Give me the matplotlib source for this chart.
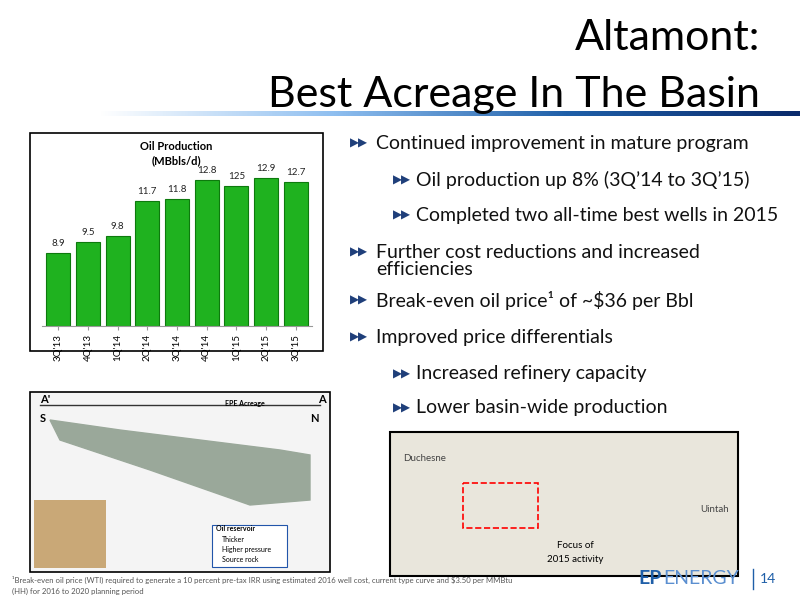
import matplotlib
matplotlib.use("Agg")
import matplotlib.pyplot as plt
import numpy as np
from matplotlib.patches import Rectangle
from matplotlib.colors import LinearSegmentedColormap

plt.rcParams['font.family'] = ['Lato', 'DejaVu Sans']

quarters = ["3Q'13", "4Q'13", "1Q'14", "2Q'14", "3Q'14", "4Q'14", "1Q'15", "2Q'15", "3Q'15"]
production = [8.9, 9.5, 9.8, 11.7, 11.8, 12.8, 12.5, 12.9, 12.7]
value_labels = ["8.9", "9.5", "9.8", "11.7", "11.8", "12.8", "125", "12.9", "12.7"]

bullets = [
    (0, "Continued improvement in mature program"),
    (1, "Oil production up 8% (3Q\u201914 to 3Q\u201915)"),
    (1, "Completed two all-time best wells in 2015"),
    (0, "Further cost reductions and increased\nefficiencies"),
    (0, "Break-even oil price\u00b9 of ~$36 per Bbl"),
    (0, "Improved price differentials"),
    (1, "Increased refinery capacity"),
    (1, "Lower basin-wide production"),
]
bullet_y = [143, 180, 215, 261, 300, 337, 374, 408]

W, H = 800, 600
fig = plt.figure(figsize=(8, 6), dpi=100)
bg = fig.add_axes([0, 0, 1, 1])

# title
bg.text(760, 38, "Altamont:", ha='right', va='center', fontsize=31, color='black')
bg.text(760, 95, "Best Acreage In The Basin", ha='right', va='center', fontsize=31, color='black')
grad = np.linspace(0, 1, 256)[None, :]
cm = LinearSegmentedColormap.from_list('g', ['#ffffff', '#8fbff0', '#1f5fa8', '#0a2a6b'])
bg.imshow(grad, extent=[100, 800, 116, 111], aspect='auto', cmap=cm, zorder=1)
bg.set_xlim(0, W); bg.set_ylim(H, 0); bg.axis('off')

# bullets
for (lvl, txt), y in zip(bullets, bullet_y):
    ax_x = 350 if lvl == 0 else 393
    tx_x = 376 if lvl == 0 else 416
    yy = y if '\n' not in txt else y - 9
    bg.text(ax_x, yy, "\u25B6\u25B6", fontsize=8.5, color='#1f3f7a', va='center', ha='left',
            family=['DejaVu Sans'])
    bg.text(tx_x, y, txt, fontsize=14, color='#111111', va='center', ha='left', linespacing=0.95)

# chart frame
bg.add_patch(Rectangle((30, 133), 293, 218, fill=False, lw=1.2, ec='black'))
bg.text(176, 146, "Oil Production", ha='center', va='center', fontsize=8, fontweight='bold')
bg.text(176, 161, "(MBbls/d)", ha='center', va='center', fontsize=8, fontweight='bold')

ax = fig.add_axes([42 / W, 1 - 326 / H, 270 / W, (326 - 150) / H])
x = np.arange(len(quarters))
ax.bar(x, [p - 5 for p in production], bottom=5, width=0.8, color='#1fb21f', edgecolor='#0d7a0d', lw=0.8)
for xi, p, lab in zip(x, production, value_labels):
    ax.text(xi, p + 0.25, lab, ha='center', va='bottom', fontsize=7, color='#222222')
ax.set_ylim(5, 14.4)
ax.set_xlim(-0.55, len(quarters) - 0.45)
ax.set_xticks(x)
ax.set_xticklabels(quarters, rotation=90, fontsize=7)
ax.set_yticks([])
for s in ['top', 'right', 'left']:
    ax.spines[s].set_visible(False)
ax.spines['bottom'].set_color('#999999')
ax.tick_params(axis='x', length=3, color='#999999', pad=3)
ax.patch.set_alpha(0)

# cross-section placeholder
bg.add_patch(Rectangle((30, 392), 300, 180, fc='#f4f4f4', ec='black', lw=1.2))
bg.add_patch(Rectangle((34, 500), 72, 68, fc='#c9a877', ec='none'))
bg.fill([50, 120, 200, 280, 310, 310, 250, 150, 60], [420, 430, 440, 450, 455, 500, 505, 470, 440],
        color='#9aa89a', zorder=2)
bg.plot([40, 320], [405, 405], color='#333333', lw=1)
bg.text(40, 405, "A'", fontsize=8, fontweight='bold', va='bottom')
bg.text(318, 405, "A", fontsize=8, fontweight='bold', va='bottom')
bg.text(40, 422, "S", fontsize=8, fontweight='bold')
bg.text(310, 422, "N", fontsize=8, fontweight='bold')
bg.text(245, 407, "EPE Acreage", fontsize=5, fontweight='bold', ha='center', va='bottom')
bg.add_patch(Rectangle((212, 525), 75, 42, fc='white', ec='#2255aa', lw=0.8, zorder=3))
bg.text(216, 531, "Oil reservoir", fontsize=5, fontweight='bold', zorder=4)
bg.text(222, 542, "Thicker", fontsize=5, zorder=4)
bg.text(222, 552, "Higher pressure", fontsize=5, zorder=4)
bg.text(222, 562, "Source rock", fontsize=5, zorder=4)

# map placeholder
bg.add_patch(Rectangle((390, 432), 348, 144, fc='#e9e6dc', ec='black', lw=1.5))
bg.add_patch(Rectangle((463, 483), 75, 45, fill=False, ec='red', ls='--', lw=1.2, zorder=3))
bg.text(403, 461, "Duchesne", fontsize=7, color='#444444')
bg.text(700, 512, "Uintah", fontsize=7, color='#444444')
bg.text(575, 548, "Focus of", fontsize=7, ha='center', zorder=4)
bg.text(575, 562, "2015 activity", fontsize=7, ha='center', zorder=4)

# footer
bg.text(12, 576, "\u00b9Break-even oil price (WTI) required to generate a 10 percent pre-tax IRR using estimated 2016 well cost, current type curve and $3.50 per MMBtu\n(HH) for 2016 to 2020 planning period",
        fontsize=5.6, color='#555555', va='top', linespacing=1.6)
bg.text(638, 579, "EP", fontsize=14, fontweight='bold', color='#1f5fa8', va='center')
bg.text(663, 579, "ENERGY", fontsize=14, color='#5b8fd0', va='center')
bg.plot([753, 753], [569, 589], color='#1f5fa8', lw=1)
bg.text(760, 579, "14", fontsize=10, color='#1f5fa8', va='center')

fig.savefig("out.png", dpi=100)
